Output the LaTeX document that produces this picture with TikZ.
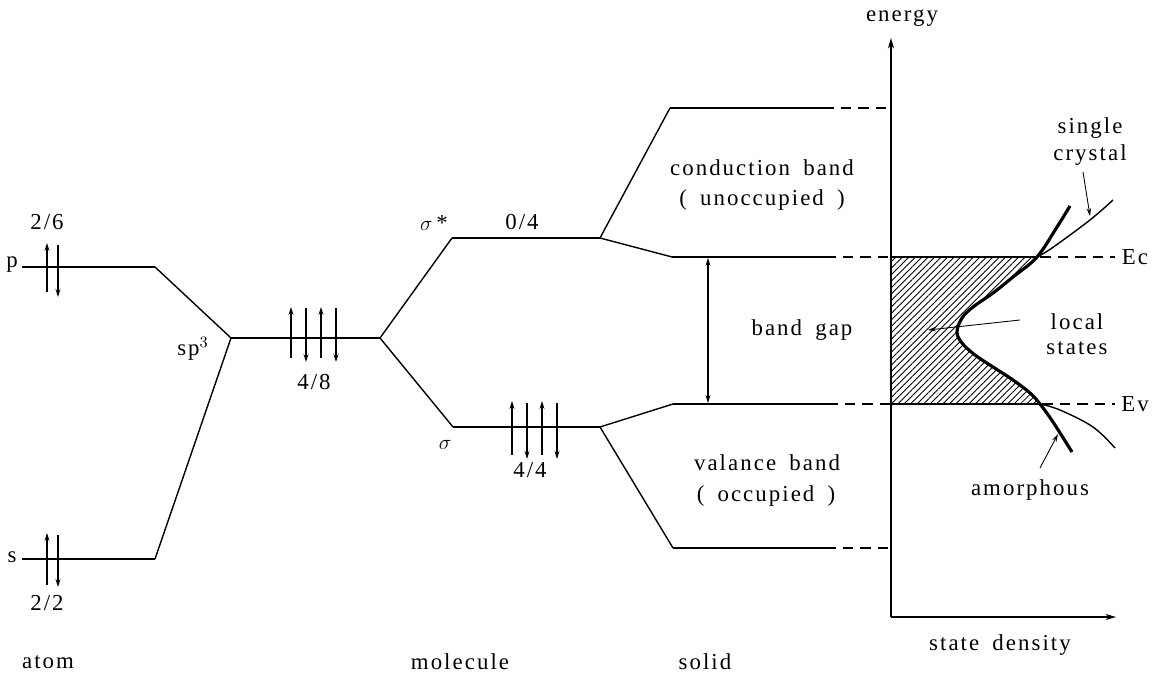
\documentclass[tikz,border=0pt]{standalone}
\usepackage{fontspec}
\setmainfont{Liberation Serif}[LetterSpace=9,WordSpace=1.7]
\usetikzlibrary{arrows.meta,patterns.meta}
\tikzset{
  level/.style={line width=1.1pt},
  slant/.style={line width=0.8pt},
  dashlvl/.style={line width=0.8pt,dash pattern=on 6pt off 4pt},
  spin/.style={line width=0.7pt,-{Stealth[length=4.5pt,width=2.8pt]}},
  lead/.style={line width=0.5pt,-{Stealth[length=4.5pt,width=2.6pt]}},
  lbl/.style={inner sep=0pt,font=\fontsize{13}{15}\selectfont},
}
\begin{document}
\begin{tikzpicture}[x=0.02cm,y=-0.02cm]
\useasboundingbox (0,0) rectangle (1164,675);
% level coordinates
\coordinate (pL) at (22,267); \coordinate (pR) at (155,267);
\coordinate (sL) at (22,559); \coordinate (sR) at (155,559);
\coordinate (hL) at (231,338); \coordinate (hR) at (380,338);
\coordinate (ssL) at (452,238); \coordinate (ssR) at (600,238);
\coordinate (sgL) at (453,427); \coordinate (sgR) at (600,427);
\coordinate (cT) at (670,108); \coordinate (cTs) at (823,108); \coordinate (cTa) at (891,108);
\coordinate (ec) at (672,257); \coordinate (ecs) at (825,257); \coordinate (eca) at (891,257);
\coordinate (ev) at (673,404); \coordinate (evs) at (827,404); \coordinate (eva) at (891,404);
\coordinate (vB) at (673,548); \coordinate (vBs) at (825,548); \coordinate (vBa) at (891,548);
% atom
\draw[level] (pL) -- (pR); \draw[level] (sL) -- (sR);
\draw[slant] (pR) -- (hL); \draw[slant] (sR) -- (hL);
\draw[level] (hL) -- (hR);
\draw[slant] (hR) -- (ssL); \draw[slant] (hR) -- (sgL);
\draw[level] (ssL) -- (ssR); \draw[level] (sgL) -- (sgR);
\draw[slant] (ssR) -- (cT); \draw[slant] (ssR) -- (ec);
\draw[slant] (sgR) -- (ev); \draw[slant] (sgR) -- (vB);
\draw[level] (cT) -- (cTs); \draw[dashlvl] (cTs) -- (cTa);
\draw[level] (ec) -- (ecs); \draw[dashlvl] (ecs) -- (eca);
\draw[level] (ev) -- (evs); \draw[dashlvl] (evs) -- (eva);
\draw[level] (vB) -- (vBs); \draw[dashlvl] (vBs) -- (vBa);
% spins
\coordinate (p1a) at (47,292); \coordinate (p1b) at (47,243);
\coordinate (p2a) at (58,245); \coordinate (p2b) at (58,297);
\draw[spin] (p1a) -- (p1b); \draw[spin] (p2a) -- (p2b);
\coordinate (s1a) at (47,585); \coordinate (s1b) at (47,533);
\coordinate (s2a) at (58,535); \coordinate (s2b) at (58,587);
\draw[spin] (s1a) -- (s1b); \draw[spin] (s2a) -- (s2b);
\foreach \x [count=\i] in {291,321} {
  \coordinate (hu\i a) at (\x,358); \coordinate (hu\i b) at (\x,307);
  \draw[spin] (hu\i a) -- (hu\i b);}
\foreach \x [count=\i] in {306,336} {
  \coordinate (hd\i a) at (\x,308); \coordinate (hd\i b) at (\x,362);
  \draw[spin] (hd\i a) -- (hd\i b);}
\foreach \x [count=\i] in {512,542} {
  \coordinate (mu\i a) at (\x,455); \coordinate (mu\i b) at (\x,401);
  \draw[spin] (mu\i a) -- (mu\i b);}
\foreach \x [count=\i] in {527,557} {
  \coordinate (md\i a) at (\x,403); \coordinate (md\i b) at (\x,459);
  \draw[spin] (md\i a) -- (md\i b);}
% band gap arrow
\coordinate (bgT) at (708,258); \coordinate (bgB) at (708,403);
\draw[line width=0.7pt,{Stealth[length=4.5pt,width=2.8pt]}-{Stealth[length=4.5pt,width=2.8pt]}] (bgT) -- (bgB);
% density of states
\fill[pattern={Lines[angle=45,distance=2.6pt,line width=0.5pt]}]
  (891,257) -- plot[smooth,tension=0.6] coordinates {(1037,257) (1013,277) (993,293) (973,307) (962,318) (957,332) (962,343) (975,355) (993,367) (1013,380) (1030,393) (1040,404)} -- (891,404) -- cycle;
\draw[line width=0.8pt] (891,257) -- (1037,257);
\draw[line width=0.8pt] (891,404) -- (1040,404);
\draw[line width=1.8pt] plot[smooth,tension=0.6] coordinates {(1070,206) (1057,227) (1037,257) (1013,277) (993,293) (973,307) (962,318) (957,332) (962,343) (975,355) (993,367) (1013,380) (1030,393) (1040,404) (1053,422) (1072,452)};
\draw[line width=0.8pt] plot[smooth,tension=0.6] coordinates {(1037,257) (1052,248) (1090,220) (1113,200)};
\draw[line width=0.8pt] plot[smooth,tension=0.6] coordinates {(1040,404) (1060,410) (1093,427) (1115,448)};
\coordinate (ecd) at (1040,257); \coordinate (ece) at (1115,257);
\coordinate (evd) at (1042,404); \coordinate (eve) at (1115,404);
\draw[dashlvl] (ecd) -- (ece); \draw[dashlvl] (evd) -- (eve);
% axes
\coordinate (O) at (891,617); \coordinate (Ey) at (891,38); \coordinate (Dx) at (1116,617);
\draw[line width=0.8pt,-{Stealth[length=6pt,width=3.5pt]}] (O) -- (Ey);
\draw[line width=0.8pt,-{Stealth[length=6pt,width=3.5pt]}] (O) -- (Dx);
% labels
\node[lbl] (tp) at (12,265) {p};
\node[lbl] (ts) at (12,557) {s};
\node[lbl] (t26) at (47,222) {2/6};
\node[lbl] (t22) at (47,603) {2/2};
\node[lbl] (tatom) at (48,662) {atom};
\node[lbl] (tsp) at (193,349) {sp$^3$};
\node[lbl] (t48) at (314,382) {4/8};
\node[lbl] (tss) at (434,223) {$\sigma$\,*};
\node[lbl] (t04) at (522,222) {0/4};
\node[lbl] (tsg) at (445,445) {$\sigma$};
\node[lbl] (t44) at (530,470) {4/4};
\node[lbl] (tmol) at (460,662) {molecule};
\node[lbl] (tsol) at (705,662) {solid};
\node[lbl] (tcb) at (762,168) {conduction band};
\node[lbl] (tun) at (762,200) {( unoccupied )};
\node[lbl] (tbg) at (802,330) {band gap};
\node[lbl] (tvb) at (767,463) {valance band};
\node[lbl] (toc) at (766,496) {( occupied )};
\node[lbl] (ten) at (902,18) {energy};
\node[lbl] (tsd) at (1000,645) {state density};
\node[lbl] (tEc) at (1135,257) {Ec};
\node[lbl] (tEv) at (1135,404) {Ev};
\node[lbl] (tsi) at (1090,128) {single};
\node[lbl] (tcr) at (1090,155) {crystal};
\node[lbl] (tlo) at (1077,322) {local};
\node[lbl] (tst) at (1077,348) {states};
\node[lbl] (tam) at (1030,490) {amorphous};
% leaders
\coordinate (scS) at (1083,172); \coordinate (scA) at (1090,216);
\coordinate (loS) at (1020,320); \coordinate (loA) at (928,330);
\coordinate (amS) at (1040,468); \coordinate (amA) at (1058,434);
\draw[lead] (scS) -- (scA);
\draw[lead] (loS) -- (loA);
\draw[lead] (amS) -- (amA);
\end{tikzpicture}
\end{document}
